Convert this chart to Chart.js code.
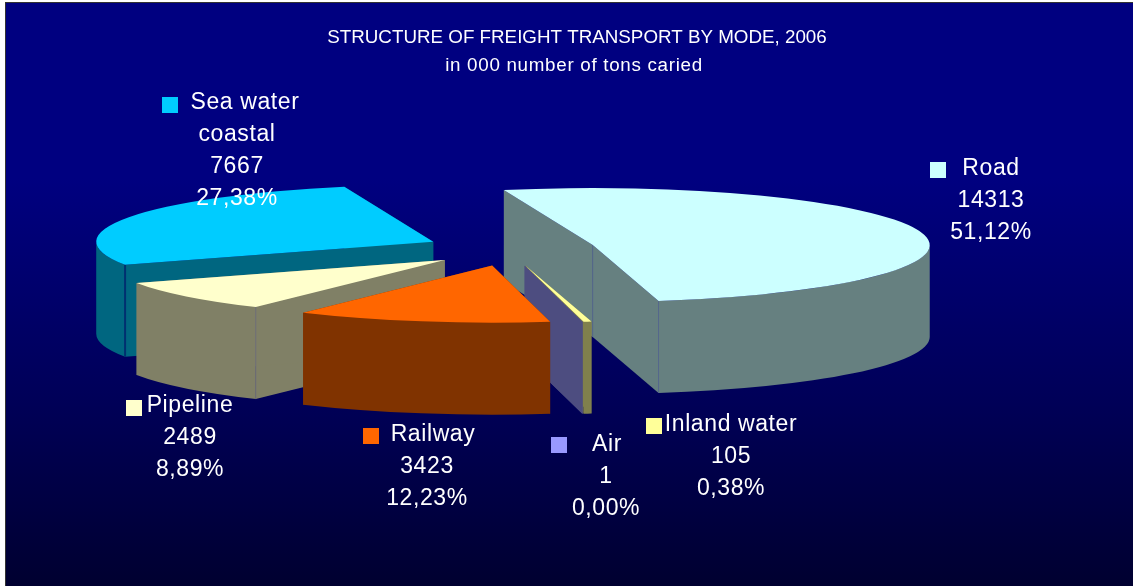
<!DOCTYPE html>
<html>
<head>
<meta charset="utf-8">
<title>Freight transport by mode</title>
<script src="https://cdn.jsdelivr.net/npm/chart.js@4"></script>
<style>
html, body { margin: 0; padding: 0; background: #fff; overflow: hidden; }
#panel {
	position: absolute; left: 5px; top: 2px; width: 1128px; height: 584px;
	box-sizing: border-box; border-left: 1px solid #333; border-top: 1px solid #333;
	background: linear-gradient(to bottom, #000080 0%, #000080 30%, #000058 68%, #000030 100%);
}
canvas { position: absolute; left: 0; top: 0; }
</style>
</head>
<body>
<div id="panel"></div>
<canvas id="freight_chart" width="1138" height="586"></canvas>
<script>
// data
const categories = ['Road', 'Inland water', 'Air', 'Railway', 'Pipeline', 'Sea water'];
const labelLines = [['Road'], ['Inland water'], ['Air'], ['Railway'], ['Pipeline'], ['Sea water', 'coastal']];
const tons = [14313, 105, 1, 3423, 2489, 7667];
const titleLines = ['STRUCTURE OF FREIGHT TRANSPORT BY MODE, 2006', 'in 000 number of tons caried'];

// style
const topColors = ['#CCFFFF', '#FFFF99', '#9999FF', '#FF6600', '#FFFFCC', '#00CCFF'];
const wallColors = ['#668080', '#80804D', '#4D4D80', '#803300', '#808066', '#006680'];
const seamColors = ['#56688c', '#80804D', '#4D4D80', '#803300', '#6d6d78', '#003070'];
const drawOrder = [5, 0, 4, 1, 2, 3];

// where the squashed pie sits on the page
const pieX = 510, pieY = 249, pieRX = 337, pieRY = 57, pieDepth = 92;
const explodeX = 85, explodeY = 17;

// label boxes: key square, centre of first line, centre of the other lines, y of first line
const keyX = [930, 646, 551, 363, 126, 162];
const keyY = [162, 418, 437, 428, 400, 97];
const firstLineX = [991, 731, 607, 433, 190, 245];
const otherLineX = [991, 731, 606, 427, 190, 237];
const firstLineY = [169, 425, 445, 435, 406, 103];
const lineGap = 32;

const total = tons.reduce((a, b) => a + b, 0);

const pie3d = {
	id: 'pie3d',
	beforeDatasetsDraw(chart) {
		const ctx = chart.ctx;
		const arcs = chart.getDatasetMeta(0).data;
		drawOrder.forEach(i => {
			const arc = arcs[i];
			const sx = pieRX / arc.outerRadius, sy = pieRY / arc.outerRadius;
			const mid = (arc.startAngle + arc.endAngle) / 2;
			const ax = pieX + Math.cos(mid) * explodeX;
			const ay = pieY + Math.sin(mid) * explodeY;
			const a1 = arc.startAngle, a2 = arc.endAngle;
			const px = a => ax + Math.cos(a) * pieRX;
			const py = a => ay + Math.sin(a) * pieRY;

			// side walls
			ctx.save();
			ctx.fillStyle = wallColors[i];
			[a1, a2].forEach(a => {
				ctx.beginPath();
				ctx.moveTo(ax, ay);
				ctx.lineTo(px(a), py(a));
				ctx.lineTo(px(a), py(a) + pieDepth);
				ctx.lineTo(ax, ay + pieDepth);
				ctx.closePath();
				ctx.fill();
			});
			// only the front half of the rim can be seen
			const lo = Math.max(a1, 0), hi = Math.min(a2, Math.PI);
			if (hi > lo) {
				ctx.beginPath();
				ctx.ellipse(ax, ay, pieRX, pieRY, 0, lo, hi);
				ctx.ellipse(ax, ay + pieDepth, pieRX, pieRY, 0, hi, lo, true);
				ctx.closePath();
				ctx.fill();
			}

			// fold lines between the walls
			ctx.strokeStyle = seamColors[i];
			ctx.lineWidth = i == 5 ? 2 : 1;
			const seam = (x, y) => {
				ctx.beginPath();
				ctx.moveTo(x, y);
				ctx.lineTo(x, y + pieDepth);
				ctx.stroke();
			};
			if (a2 - a1 > 0.1) {
				const startShown = Math.cos(a1) < 0, endShown = Math.cos(a2) > 0;
				if (startShown && Math.sin(a1) > 0) seam(px(a1), py(a1));
				if (endShown && Math.sin(a2) > 0) seam(px(a2), py(a2));
				if (startShown && endShown) seam(ax, ay);
			}
			ctx.restore();

			// top face, squashed
			ctx.save();
			ctx.translate(ax, ay);
			ctx.scale(sx, sy);
			ctx.translate(-arc.x, -arc.y);
			arc.draw(ctx);
			ctx.restore();
		});
		return false;
	},
	afterDraw(chart) {
		const ctx = chart.ctx;
		ctx.save();
		ctx.fillStyle = '#fff';
		ctx.textAlign = 'center';
		ctx.textBaseline = 'middle';

		// titles
		ctx.font = '18.8px "Liberation Sans"';
		ctx.letterSpacing = '0px';
		ctx.fillText(titleLines[0], 577, 38);
		ctx.letterSpacing = '0.7px';
		ctx.fillText(titleLines[1], 574, 66);

		// data labels
		ctx.font = '23px "Liberation Sans"';
		ctx.letterSpacing = '0.6px';
		categories.forEach((c, i) => {
			ctx.fillStyle = topColors[i];
			ctx.fillRect(keyX[i], keyY[i], 16, 16);
			ctx.fillStyle = '#fff';
			const pct = (tons[i] / total * 100).toFixed(2).replace('.', ',') + '%';
			const lines = labelLines[i].concat([String(tons[i]), pct]);
			lines.forEach((t, n) => {
				ctx.fillText(t, n == 0 ? firstLineX[i] : otherLineX[i], firstLineY[i] + n * lineGap);
			});
		});
		ctx.restore();
	}
};

new Chart(document.getElementById('freight_chart').getContext('2d'), {
	type: 'pie',
	data: {
		labels: categories,
		datasets: [{
			label: 'thousand tons',
			data: tons,
			backgroundColor: topColors,
			borderWidth: 0
		}]
	},
	options: {
		responsive: false,
		animation: false,
		rotation: -15.3,
		events: [],
		plugins: {
			legend: { display: false },
			title: { display: false },
			tooltip: { enabled: false }
		}
	},
	plugins: [pie3d]
});
</script>
</body>
</html>
